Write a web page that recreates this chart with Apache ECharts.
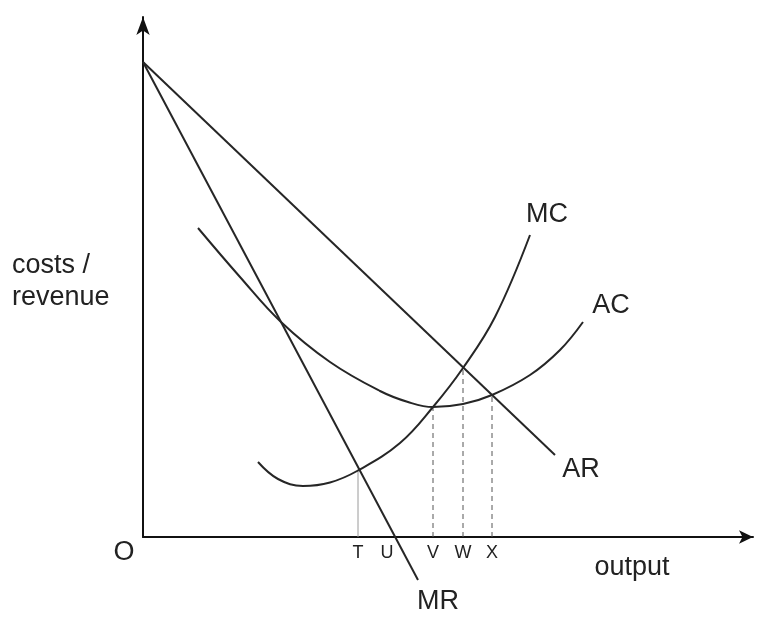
<!DOCTYPE html>
<html lang="en">
<head>
    <meta charset="UTF-8">
    <title>costs / revenue</title>
    <script src="https://cdn.jsdelivr.net/npm/echarts@6/dist/echarts.min.js"></script>
    <style>
        html, body { margin: 0; padding: 0; background: #fff; }
        #chart { width: 760px; height: 621px; }
    </style>
</head>
<body>
<div id="chart"></div>
<script type="text/javascript">
    // curves, in output / cost units
    var arPts = [[0, 95], [82.4, 16.4]];
    var mrPts = [[0, 95], [55, -8.6]];
    var mcPts = [[23, 15], [27, 11.6], [32, 10.2], [37.4, 10.9], [43, 13.3], [51.4, 18.8],
                 [58, 26], [64, 33.8], [70.4, 44], [77.4, 60.4]];
    var acPts = [[11, 61.8], [19.4, 52], [27.6, 43], [37.4, 35], [47.4, 29.2], [53, 27], [58, 26],
                 [64, 26.6], [69.8, 28.4], [77.4, 32.4], [83.4, 37.4], [88, 43]];

    // points on the output axis
    var tickNames = ['T', 'U', 'V', 'W', 'X'];
    var tickX = [43, 48.8, 58, 64, 69.8];
    // guide lines up from the axis (T solid, rest dashed)
    var guideNames = ['T', 'V', 'W', 'X'];
    var guideX = [43, 58, 64, 69.8];
    var guideTop = [13.5, 26, 33.8, 28.4];

    // curve names and where they sit
    var curveNames = ['MC', 'AC', 'AR', 'MR'];
    var curveLabelPos = [[80.8, 64.4], [93.6, 46.2], [87.6, 13.4], [59, -13]];

    var lineColor = '#262626';
    var textColor = '#222';
    var bigFont = 27;

    var chart = echarts.init(document.getElementById('chart'), null, { renderer: 'canvas' });

    var series = [];
    function curve(name, pts, smooth) {
        series.push({
            name: name,
            type: 'line',
            data: pts,
            smooth: smooth ? 0.4 : false,
            showSymbol: false,
            clip: false,
            lineStyle: { color: lineColor, width: 2 },
            silent: true
        });
    }
    curve('AR', arPts, false);
    curve('MR', mrPts, false);
    curve('MC', mcPts, true);
    curve('AC', acPts, true);

    for (var i = 0; i < guideX.length; i++) {
        series.push({
            name: 'guide ' + guideNames[i],
            type: 'line',
            data: [[guideX[i], 0], [guideX[i], guideTop[i]]],
            showSymbol: false,
            lineStyle: {
                color: guideNames[i] == 'T' ? '#9a9a9a' : '#555',
                width: 1,
                type: guideNames[i] == 'T' ? 'solid' : [5, 4]
            },
            z: 1,
            silent: true
        });
    }

    // all the text on the plot
    var notes = [{ value: [-3.8, -3.2], name: 'O', big: true }];
    for (var j = 0; j < tickNames.length; j++) {
        notes.push({ value: [tickX[j], -3.2], name: tickNames[j], big: false });
    }
    for (var k = 0; k < curveNames.length; k++) {
        notes.push({ value: curveLabelPos[k], name: curveNames[k], big: true });
    }
    notes.push({ value: [97.8, -6.2], name: 'output', big: true });

    series.push({
        name: 'notes',
        type: 'scatter',
        symbolSize: 0,
        clip: false,
        silent: true,
        itemStyle: { opacity: 1 },
        data: notes.map(function (n) {
            return {
                value: n.value,
                name: n.name,
                label: {
                    show: true,
                    position: 'inside',
                    formatter: '{b}',
                    color: textColor,
                    opacity: 1,
                    fontFamily: 'Liberation Sans, Arial, sans-serif',
                    fontSize: n.big ? bigFont : 18
                }
            };
        })
    });

    chart.setOption({
        animation: false,
        backgroundColor: '#fff',
        grid: { left: 143, top: 17, width: 610, height: 520 },
        xAxis: {
            type: 'value',
            min: 0,
            max: 122,
            axisLine: {
                show: true,
                onZero: true,
                symbol: ['none', 'arrow'],
                symbolSize: [10, 14],
                lineStyle: { color: '#111', width: 2 }
            },
            axisTick: { show: false },
            axisLabel: { show: false },
            splitLine: { show: false }
        },
        yAxis: {
            type: 'value',
            min: 0,
            max: 104,
            axisLine: {
                show: true,
                symbol: ['none', 'arrow'],
                symbolSize: [10, 18],
                lineStyle: { color: '#111', width: 2 }
            },
            axisTick: { show: false },
            axisLabel: { show: false },
            splitLine: { show: false }
        },
        graphic: [{
            type: 'text',
            left: 12,
            top: 250,
            silent: true,
            style: {
                text: 'costs /\nrevenue',
                font: bigFont + 'px "Liberation Sans", Arial, sans-serif',
                lineHeight: 32,
                fill: textColor
            }
        }],
        series: series
    });
</script>
</body>
</html>
